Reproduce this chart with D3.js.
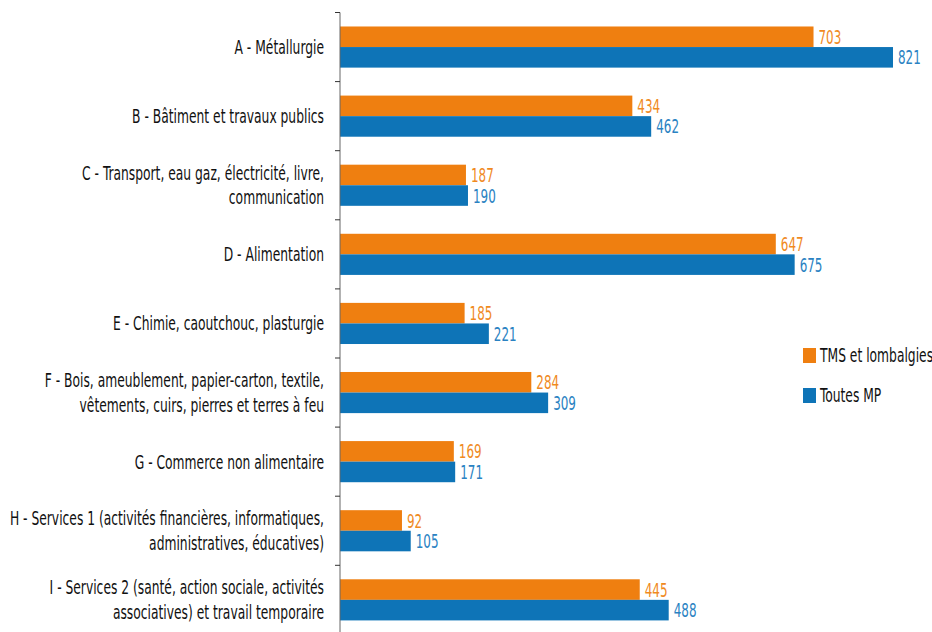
<!DOCTYPE html>
<html>
<head>
<meta charset="utf-8">
<script src="https://cdn.jsdelivr.net/npm/d3@7/dist/d3.min.js"></script>
<style>
  body { margin: 0; background: #fff; }
  svg text { font-family: "DejaVu Sans Condensed", "DejaVu Sans", sans-serif; font-stretch: condensed; }
</style>
</head>
<body>
<div id="viz"></div>
<script>
// categories, each split in the lines shown on the chart
let categories = ["A", "B", "C", "D", "E", "F", "G", "H", "I"];
let category_lines = [
    ["A - Métallurgie"],
    ["B - Bâtiment et travaux publics "],
    ["C - Transport, eau gaz, électricité, livre,", "communication"],
    ["D - Alimentation"],
    ["E - Chimie, caoutchouc, plasturgie"],
    ["F - Bois, ameublement, papier-carton, textile,", "vêtements, cuirs, pierres et terres à feu"],
    ["G - Commerce non alimentaire "],
    ["H - Services 1 (activités financières, informatiques,", "administratives, éducatives)"],
    ["I - Services 2 (santé, action sociale, activités", "associatives) et travail temporaire"]
];
let series_names = ["TMS et lombalgies", "Toutes MP"];
let tms_values = [703, 434, 187, 647, 185, 284, 169, 92, 445];
let toutes_values = [821, 462, 190, 675, 221, 309, 171, 105, 488];
let series_colors = ["#EF7F10", "#0E74B7"];
let text_colors = ["#F08A1E", "#2A82C2"];

let width = 932, height = 632;
let x_axis_pos = 340;
// the original font is a condensed one: squeeze the text horizontally
let label_squeeze = 0.72;
let value_squeeze = 0.7;

let svg = d3.select("#viz").append("svg")
    .attr("width", width)
    .attr("height", height);

let x_scale = d3.scaleLinear().domain([0, 821]).range([x_axis_pos, 893]);
let y_scale = d3.scaleBand().domain(categories).range([12.5, 12.5 + 9 * 69.1]);
let sub_scale = d3.scaleBand().domain(series_names)
    .range([0, y_scale.bandwidth()])
    .paddingInner(0).paddingOuter(0.68);

let rows = categories.map(function(c, i){
    return {cat: c, lines: category_lines[i], vals: [tms_values[i], toutes_values[i]]};
});

let groups = svg.selectAll(".row")
    .data(rows)
    .enter()
    .append("g")
    .attr("class", "row")
    .attr("transform", function(d){ return "translate(0," + y_scale(d.cat) + ")"; });

// bars
groups.selectAll("rect")
    .data(function(d){ return d.vals.map(function(v, k){ return {v: v, k: k}; }); })
    .enter()
    .append("rect")
    .attr("x", x_scale(0))
    .attr("y", function(d){ return sub_scale(series_names[d.k]); })
    .attr("width", function(d){ return x_scale(d.v) - x_scale(0); })
    .attr("height", sub_scale.bandwidth())
    .attr("fill", function(d){ return series_colors[d.k]; });

// values
groups.selectAll("text.val")
    .data(function(d){ return d.vals.map(function(v, k){ return {v: v, k: k}; }); })
    .enter()
    .append("text")
    .attr("class", "val")
    .attr("transform", function(d){
        let tx = x_scale(d.v) + 5;
        let ty = sub_scale(series_names[d.k]) + sub_scale.bandwidth() / 2;
        return "translate(" + tx + "," + ty + ") scale(" + value_squeeze + ",1)";
    })
    .attr("dy", "0.37em")
    .style("font-size", "19px")
    .attr("fill", function(d){ return text_colors[d.k]; })
    .text(function(d){ return d.v; });

// category labels
groups.each(function(d){
    let g = d3.select(this);
    let n = d.lines.length;
    let mid = y_scale.bandwidth() / 2;
    d.lines.forEach(function(line, j){
        let ty = mid + (j - (n - 1) / 2) * 24.5;
        g.append("text")
            .attr("transform", "translate(324," + ty + ") scale(" + label_squeeze + ",1)")
            .attr("dy", "0.36em")
            .attr("text-anchor", "end")
            .style("font-size", "19px")
            .attr("fill", "#111")
            .text(line);
    });
});

// axis line with ticks at the band edges
svg.append("line")
    .attr("x1", x_axis_pos).attr("x2", x_axis_pos)
    .attr("y1", y_scale.range()[0]).attr("y2", height)
    .attr("stroke", "#666").attr("stroke-width", 1);

svg.selectAll(".tick")
    .data(categories)
    .enter()
    .append("line")
    .attr("class", "tick")
    .attr("x1", x_axis_pos - 5).attr("x2", x_axis_pos)
    .attr("y1", function(d){ return y_scale(d); })
    .attr("y2", function(d){ return y_scale(d); })
    .attr("stroke", "#333").attr("stroke-width", 1);

// legend
let legend = svg.selectAll(".legend")
    .data(series_names)
    .enter()
    .append("g")
    .attr("class", "legend")
    .attr("transform", function(d, i){ return "translate(803," + (348 + i * 40) + ")"; });

legend.append("rect")
    .attr("width", 13).attr("height", 15)
    .attr("fill", function(d, i){ return series_colors[i]; });

legend.append("text")
    .attr("transform", "translate(17,7.5) scale(" + label_squeeze + ",1)")
    .attr("dy", "0.36em")
    .style("font-size", "19px")
    .attr("fill", "#111")
    .text(function(d){ return d; });
</script>
</body>
</html>
